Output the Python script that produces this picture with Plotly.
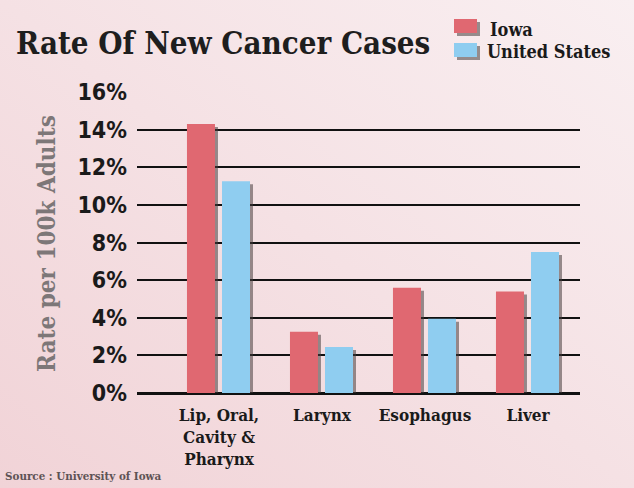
import plotly.graph_objects as go

categories = ["Lip, Oral,<br>Cavity &<br>Pharynx", "Larynx", "Esophagus", "Liver"]
iowa = [14.3, 3.25, 5.6, 5.4]
us = [11.25, 2.45, 3.95, 7.5]
tick_vals = [0, 2, 4, 6, 8, 10, 12, 14, 16]
tick_text = ["0%", "2%", "4%", "6%", "8%", "10%", "12%", "14%", "16%"]
series_names = ["Iowa", "United States"]

W, H = 634, 488
L, R, T, B = 137, 54, 92, 95
PW, PH = W - L - R, H - T - B

def px(x):
    return (x - L) / PW

def py(y):
    return (H - B - y) / PH

RED = "#e06871"
BLUE = "#8fcdf0"
SHADOW = "rgba(70,60,60,0.55)"
SLAB = "DejaVu Serif Condensed, DejaVu Serif, serif"
NARROW = "DejaVu Sans Condensed, DejaVu Sans, sans-serif"

bw = 0.272
off_iowa = -0.311
off_us = 0.029
sx = 3 / 103
sy = 3 / (PH / 16)

fig = go.Figure()
for vals, off in [(iowa, off_iowa), (us, off_us)]:
    fig.add_trace(go.Bar(x=list(range(len(categories))), y=vals, base=-sy, width=bw,
                         offset=off + sx, marker=dict(color=SHADOW, line=dict(width=0)),
                         showlegend=False, hoverinfo="skip"))
fig.add_trace(go.Bar(x=list(range(len(categories))), y=iowa, width=bw, offset=off_iowa,
                     name=series_names[0], marker=dict(color=RED, line=dict(width=0)), showlegend=False))
fig.add_trace(go.Bar(x=list(range(len(categories))), y=us, width=bw, offset=off_us,
                     name=series_names[1], marker=dict(color=BLUE, line=dict(width=0)), showlegend=False))

bg_svg = ("data:image/svg+xml;utf8,<svg xmlns='http://www.w3.org/2000/svg' width='634' height='488'>"
          "<defs><linearGradient id='g' x1='1' y1='0' x2='0' y2='1'>"
          "<stop offset='0' stop-color='%23f9eff1'/><stop offset='1' stop-color='%23f1d3d7'/>"
          "</linearGradient></defs><rect width='634' height='488' fill='url(%23g)'/></svg>")

shapes = []
annotations = []
# legend swatches
for (y0, y1, col) in [(19, 33, RED), (43, 57, BLUE)]:
    shapes.append(dict(type="rect", xref="paper", yref="paper", x0=px(457), x1=px(480),
                       y0=py(y1 + 3), y1=py(y0 + 3), fillcolor=SHADOW, line=dict(width=0), layer="above"))
    shapes.append(dict(type="rect", xref="paper", yref="paper", x0=px(454), x1=px(477),
                       y0=py(y1), y1=py(y0), fillcolor=col, line=dict(width=0), layer="above"))
annotations.append(dict(text=series_names[0], xref="paper", yref="paper", x=px(488), y=py(29),
                        xanchor="left", yanchor="middle", showarrow=False,
                        font=dict(family=SLAB, size=18, color="#1a1a1a", weight="bold")))
annotations.append(dict(text=series_names[1], xref="paper", yref="paper", x=px(485), y=py(51),
                        xanchor="left", yanchor="middle", showarrow=False,
                        font=dict(family=SLAB, size=18, color="#1a1a1a", weight="bold")))
# title
annotations.append(dict(text="Rate Of New Cancer Cases", xref="paper", yref="paper", x=px(14), y=py(43),
                        xanchor="left", yanchor="middle", showarrow=False,
                        font=dict(family=SLAB, size=31, color="#1e1e1e", weight="bold")))
# y-axis title
annotations.append(dict(text="Rate per 100k Adults", xref="paper", yref="paper", x=px(46), y=py(244),
                        xanchor="center", yanchor="middle", showarrow=False, textangle=-90,
                        font=dict(family=SLAB, size=24, color="#7d7778", weight="bold")))
# source
annotations.append(dict(text="Source : University of Iowa", xref="paper", yref="paper", x=px(3), y=py(476),
                        xanchor="left", yanchor="middle", showarrow=False,
                        font=dict(family=SLAB, size=11.5, color="#5e5355", weight="bold")))

fig.update_layout(
    width=W, height=H,
    margin=dict(l=L, r=R, t=T, b=B, pad=0),
    paper_bgcolor="#f5e2e5", plot_bgcolor="rgba(0,0,0,0)",
    images=[dict(source=bg_svg, xref="paper", yref="paper", x=px(0), y=py(0),
                 sizex=W / PW, sizey=H / PH, xanchor="left", yanchor="top",
                 sizing="stretch", layer="below")],
    barmode="overlay",
    showlegend=False,
    shapes=shapes,
    annotations=annotations,
    xaxis=dict(range=[(L - 219) / 103, (L + PW - 219) / 103], tickvals=list(range(len(categories))),
               ticktext=categories, showgrid=False, zeroline=False, showline=False, ticks="",
               tickfont=dict(family=SLAB, size=17, color="#1a1a1a", weight="bold"),
               ticklabelstandoff=10),
    yaxis=dict(range=[0, 16], tickvals=tick_vals, ticktext=tick_text, showgrid=True,
               gridcolor="#111111", gridwidth=1.6, zeroline=True, zerolinecolor="#111111",
               zerolinewidth=3, showline=False, ticks="",
               tickfont=dict(family=NARROW, size=23, color="#1a1a1a", weight="bold"),
               ticklabelstandoff=9),
)

fig.write_html("out.html", config={"displayModeBar": False},
               post_script="document.body.style.margin='0';")
